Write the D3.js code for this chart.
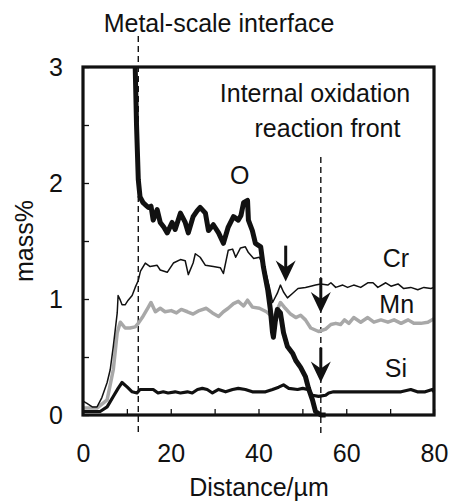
<!DOCTYPE html>
<html><head><meta charset="utf-8">
<script src="https://cdn.jsdelivr.net/npm/d3@7"></script>
<style>body{margin:0;background:#fff}svg text{font-family:"Liberation Sans",Arial,Helvetica,sans-serif;fill:#111}</style>
</head><body><svg id="c" width="449" height="502"></svg>
<script>
// ---- data (distance µm, mass%) ----
const oX = [11.9,12.2,12.6,13.0,13.7,14.3,14.9,15.5,16.0,16.9,17.6,18.4,19.2,20.3,21.0,22.2,23.3,24.0,25.1,26.0,26.7,27.9,28.6,29.7,30.9,32.0,33.1,34.3,35.4,36.0,36.6,37.5,37.7,38.6,39.3,40.5,41.1,42.1,42.7,43.2,43.4,43.8,44.3,45.0,45.7,46.6,47.8,48.5,49.6,50.7,51.4,52.3,53.0,54.2,55.3];
const oY = [3.0,2.5,2.03,1.88,1.83,1.81,1.79,1.80,1.68,1.77,1.66,1.62,1.57,1.66,1.60,1.74,1.66,1.57,1.71,1.76,1.79,1.74,1.59,1.64,1.57,1.48,1.62,1.71,1.68,1.72,1.83,1.85,1.68,1.59,1.48,1.45,1.28,1.08,0.91,0.71,0.67,0.80,0.91,0.88,0.71,0.59,0.53,0.47,0.41,0.33,0.23,0.13,0.03,0.0,0.0];

const crX = [0,0.9,2.1,3.2,4.3,5.5,6.2,6.9,7.8,8.0,8.5,8.9,9.6,10.3,11.2,11.9,12.6,13.1,14.2,15.3,16.9,17.6,19.2,20.6,22.2,23.3,24.0,25.1,25.6,26.7,27.9,29.7,31.3,32.0,33.1,34.1,34.8,35.9,37.0,37.7,38.9,40.2,41.5,42.5,43.2,44.3,45.0,45.7,46.6,47.8,49.0,50.7,51.9,53.0,54.2,55.8,56.5,57.6,59.2,60.3,61.7,63.3,64.9,66.1,67.2,69.0,70.2,71.8,73.1,74.7,76.3,77.7,79.3,80];
const crY = [0.12,0.10,0.07,0.07,0.15,0.28,0.39,0.59,0.88,1.03,0.99,0.95,0.95,0.99,1.03,1.10,1.16,1.24,1.31,1.28,1.29,1.25,1.23,1.31,1.34,1.33,1.21,1.31,1.39,1.36,1.29,1.28,1.27,1.22,1.42,1.43,1.36,1.44,1.45,1.40,1.35,1.36,1.25,1.10,0.97,1.05,1.12,1.06,1.01,1.05,1.09,1.10,1.11,1.12,1.13,1.12,1.14,1.10,1.12,1.10,1.12,1.10,1.14,1.14,1.10,1.14,1.11,1.13,1.09,1.10,1.08,1.10,1.09,1.10];

const mnX = [0,3.2,5.5,6.9,7.8,8.5,9.6,10.7,11.9,12.6,13.5,14.9,15.5,16.5,17.6,18.7,20.1,21.3,22.4,23.8,25.1,26.5,28.1,29.5,30.9,32.0,33.1,34.3,35.4,36.6,37.5,38.6,40.2,41.8,43.4,44.3,45.0,46.1,47.3,48.5,49.6,50.7,51.9,53.7,55.3,56.5,57.6,58.7,59.6,60.6,61.7,63.3,64.9,66.3,67.9,69.5,70.9,72.5,74.1,75.4,77.0,78.6,80];
const mnY = [0.06,0.06,0.13,0.39,0.71,0.80,0.75,0.75,0.76,0.79,0.84,0.93,0.97,0.89,0.92,0.89,0.90,0.88,0.91,0.89,0.87,0.90,0.92,0.88,0.85,0.89,0.92,0.96,0.98,0.94,0.99,0.93,0.92,0.89,0.84,0.91,0.97,0.92,0.87,0.84,0.86,0.82,0.75,0.72,0.74,0.78,0.79,0.78,0.82,0.79,0.84,0.80,0.84,0.80,0.82,0.80,0.82,0.79,0.82,0.79,0.79,0.80,0.83];

const siX = [0,3.9,5.5,6.9,8.0,8.9,10.1,11.2,12.3,13.0,14.6,16.0,17.1,18.3,19.4,21.0,22.2,23.8,24.9,26.1,27.2,28.3,29.5,30.9,32.5,34.1,35.4,37.0,38.6,40.0,41.6,43.2,44.6,45.7,46.9,48.9,50.1,51.2,52.3,53.7,55.3,56.0,57.1,60,64,68,72.5,74.7,76.2,78,79.6,80];
const siY = [0.03,0.03,0.07,0.16,0.23,0.28,0.24,0.20,0.19,0.22,0.22,0.22,0.19,0.20,0.19,0.20,0.19,0.20,0.19,0.22,0.23,0.22,0.19,0.22,0.20,0.22,0.23,0.22,0.20,0.20,0.20,0.22,0.24,0.26,0.23,0.22,0.23,0.22,0.17,0.16,0.17,0.19,0.20,0.20,0.20,0.20,0.20,0.22,0.20,0.20,0.22,0.20];

const xTicks = [0,10,20,30,40,50,60,70,80];
const xTickLabels = ["0","","20","","40","","60","","80"];
const yTicks = [0,0.5,1,1.5,2,2.5,3];
const yTickLabels = ["0","","1","","2","","3"];

const interfaceX = 12.6, frontX = 54.2;
const arrowXs = [46.2, 54.2, 54.2];
const arrowFrom = [1.46, 1.18, 0.58];
const arrowTo = [1.15, 0.88, 0.28];

const seriesLabels = [
  {t:"O", x:35.7, y:1.99}, {t:"Cr", x:71.3, y:1.28}, {t:"Mn", x:71.5, y:0.88}, {t:"Si", x:71.3, y:0.33}
];

// ---- drawing ----
const svg = d3.select("#c");
const L=83, R=434, T=67, B=415;
const FS = 25;
const x = d3.scaleLinear().domain([0,80]).range([L,R]);
const y = d3.scaleLinear().domain([0,3]).range([B,T]);

const zip = (a,b)=>a.map((v,i)=>[v,b[i]]);
const line = d3.line().x(d=>x(d[0])).y(d=>y(d[1]));

// axes (ticks inward)
const gx = svg.append("g").attr("transform",`translate(0,${B})`)
  .call(d3.axisBottom(x).tickValues(xTicks).tickSizeInner(-6).tickSizeOuter(0).tickPadding(29).tickFormat((d,i)=>xTickLabels[i]));
const gy = svg.append("g").attr("transform",`translate(${L},0)`)
  .call(d3.axisLeft(y).tickValues(yTicks).tickSizeInner(-6).tickSizeOuter(0).tickPadding(20).tickFormat((d,i)=>yTickLabels[i]));
[gx,gy].forEach(g=>{
  g.select(".domain").remove();
  g.selectAll(".tick line").attr("stroke","#111").attr("stroke-width",1.3);
  g.selectAll(".tick text").attr("font-size",FS).attr("fill","#111").style("font-family","'Liberation Sans',Arial,sans-serif");
});

// dashed guide lines
svg.append("line").attr("x1",x(interfaceX)).attr("x2",x(interfaceX)).attr("y1",36).attr("y2",436)
  .attr("stroke","#111").attr("stroke-width",1.4).attr("stroke-dasharray","6,4");
svg.append("line").attr("x1",x(frontX)).attr("x2",x(frontX)).attr("y1",157).attr("y2",436)
  .attr("stroke","#111").attr("stroke-width",1.4).attr("stroke-dasharray","6,4");

// series
svg.append("path").datum(zip(mnX,mnY)).attr("d",line).attr("fill","none").attr("stroke","#a8a8a8").attr("stroke-width",3.5).attr("stroke-linejoin","round");
svg.append("path").datum(zip(crX,crY)).attr("d",line).attr("fill","none").attr("stroke","#111").attr("stroke-width",1.5).attr("stroke-linejoin","round");
svg.append("path").datum(zip(siX,siY)).attr("d",line).attr("fill","none").attr("stroke","#111").attr("stroke-width",3.2).attr("stroke-linejoin","round");
svg.append("path").datum(zip(oX,oY)).attr("d",line).attr("fill","none").attr("stroke","#111").attr("stroke-width",5).attr("stroke-linejoin","round");

// frame
svg.append("rect").attr("x",L).attr("y",T).attr("width",R-L).attr("height",B-T)
  .attr("fill","none").attr("stroke","#111").attr("stroke-width",3.2);

// arrows
arrowXs.forEach((ax,i)=>{
  const px=x(ax), y1=y(arrowFrom[i]), y2=y(arrowTo[i]);
  svg.append("line").attr("x1",px).attr("x2",px).attr("y1",y1).attr("y2",y2-8).attr("stroke","#111").attr("stroke-width",3);
  svg.append("path").attr("d",`M${px},${y2} L${px-10},${y2-21} L${px},${y2-14} L${px+10},${y2-21} Z`).attr("fill","#111");
});

// labels
seriesLabels.forEach(s=>svg.append("text").attr("x",x(s.x)).attr("y",y(s.y)).attr("text-anchor","middle").attr("font-size",FS).text(s.t));
svg.append("text").attr("x",219).attr("y",32).attr("text-anchor","middle").attr("font-size",FS).text("Metal-scale interface");
svg.append("text").attr("x",315).attr("y",102).attr("text-anchor","middle").attr("font-size",FS).text("Internal oxidation");
svg.append("text").attr("x",327.5).attr("y",137).attr("text-anchor","middle").attr("font-size",FS).text("reaction front");
svg.append("text").attr("x",259).attr("y",496).attr("text-anchor","middle").attr("font-size",FS).text("Distance/µm");
svg.append("text").attr("transform",`translate(33,${(T+B)/2}) rotate(-90)`).attr("text-anchor","middle").attr("font-size",FS).text("mass%");
</script></body></html>
